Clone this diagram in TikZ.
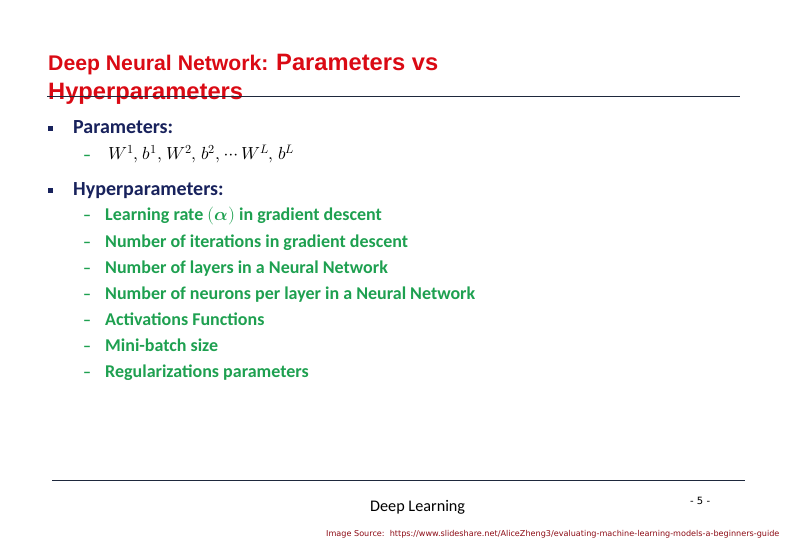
\documentclass[tikz,border=0pt]{standalone}
\usepackage{fontspec}
\setmainfont{Carlito}
\newfontfamily\titlefont{Liberation Sans}
\newfontfamily\srcfont{DejaVu Sans}
\usepackage{unicode-math}
\setmathfont{Latin Modern Math}
\definecolor{titlered}{RGB}{218,10,20}
\definecolor{navy}{RGB}{24,34,92}
\definecolor{itemgreen}{RGB}{30,160,80}
\definecolor{rulecol}{RGB}{30,40,60}
\definecolor{srcred}{RGB}{140,10,20}
\tikzset{
  titletxt/.style={anchor=base west, inner sep=0pt, text=titlered},
  headtxt/.style={anchor=base west, inner sep=0pt, text=navy, font=\fontsize{20}{22}\selectfont\bfseries},
  itemtxt/.style={anchor=base west, inner sep=0pt, text=itemgreen, font=\fontsize{18}{20}\selectfont\bfseries},
  dashtxt/.style={anchor=base west, inner sep=0pt, text=itemgreen, font=\fontsize{16}{18}\selectfont\bfseries},
  sqbullet/.style={fill=navy, minimum size=5pt, inner sep=0pt, draw=none},
  rulel/.style={draw=rulecol, line width=0.8pt}
}
\newcommand{\cm}{,\mskip 1.5mu}
\begin{document}
\begin{tikzpicture}[x=1pt,y=-1pt]
\useasboundingbox (0,0) rectangle (792,540);
% title
\node[titletxt, font=\titlefont\bfseries\fontsize{21.2}{23}\selectfont] (t1) at (48,71) {Deep Neural Network:};
\node[titletxt, font=\titlefont\bfseries\fontsize{23.7}{26}\selectfont] (t2) at (276,71) {Parameters vs};
\node[titletxt, font=\titlefont\bfseries\fontsize{23.7}{26}\selectfont] (t3) at (48,100) {Hyperparameters};
\coordinate (r1a) at (47,96);
\coordinate (r1b) at (740,96);
\draw[rulel] (r1a) -- (r1b);
% parameters
\node[sqbullet] (b1) at (50.5,128.5) {};
\node[headtxt] (h1) at (73,133.5) {Parameters:};
\node[dashtxt] (d0) at (83,161) {–};
\node[anchor=base west, inner sep=0pt, text=black, font=\fontsize{17.5}{20}\selectfont] (m0) at (108,160) {$W^1\cm b^1\cm W^2\cm b^2\cm \cdots W^L\cm b^L$};
% hyperparameters
\node[sqbullet] (b2) at (50.5,190.5) {};
\node[headtxt] (h2) at (73,195.5) {Hyperparameters:};
\foreach \i/\t in {0/{Learning rate $(\symbfit{\alpha})$ in gradient descent},
                   1/{Number of iterations in gradient descent},
                   2/{Number of layers in a Neural Network},
                   3/{Number of neurons per layer in a Neural Network},
                   4/{Activations Functions},
                   5/{Mini-batch size},
                   6/{Regularizations parameters}}{
  \node[dashtxt] (d\i) at (83,221+26*\i) {–};
  \node[itemtxt] (it\i) at (105,221+26*\i) {\t};
}
% footer
\coordinate (r2a) at (52,480);
\coordinate (r2b) at (745,480);
\draw[rulel] (r2a) -- (r2b);
\node[anchor=base west, inner sep=0pt, font=\fontsize{16.2}{18}\selectfont] (dl) at (370,511) {Deep Learning};
\node[anchor=base west, inner sep=0pt, font=\srcfont\fontsize{10}{12}\selectfont] (pg) at (690,504) {- 5 -};
\node[anchor=base west, inner sep=0pt, text=srcred, font=\srcfont\fontsize{8.1}{9}\selectfont] (src) at (326,536) {Image Source:\ \ https://www.slideshare.net/AliceZheng3/evaluating-machine-learning-models-a-beginners-guide};
\end{tikzpicture}
\end{document}
